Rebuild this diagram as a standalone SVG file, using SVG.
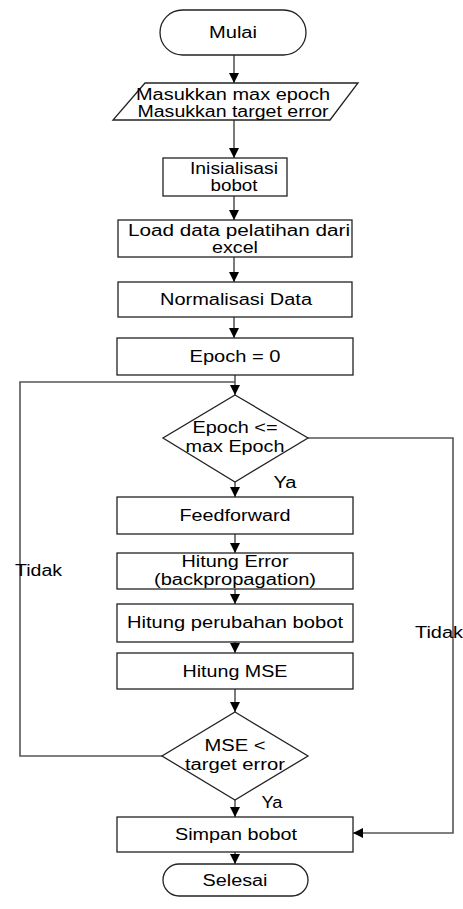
<svg xmlns="http://www.w3.org/2000/svg" width="463" height="909" viewBox="0 0 463 909">
<style>
.s{fill:#fff;stroke:#222;stroke-width:1.3}
.c{fill:none;stroke:#333;stroke-width:1.3}
.g{fill:none;stroke:#555;stroke-width:1.6}
text{font-family:"Liberation Sans",Arial,sans-serif;font-size:16px;fill:#000;text-anchor:middle}
.l{text-anchor:start}
</style>
<defs>
<marker id="ah" markerUnits="userSpaceOnUse" markerWidth="12" markerHeight="12" refX="10" refY="5" orient="auto">
<path d="M0,0 L10,5 L0,10 Z" fill="#000"/>
</marker>
</defs>
<g id="connectors">
<line class="c" x1="234" y1="55" x2="234" y2="83" marker-end="url(#ah)"/>
<line class="c" x1="234" y1="120" x2="234" y2="158" marker-end="url(#ah)"/>
<line class="c" x1="234" y1="196" x2="234" y2="220" marker-end="url(#ah)"/>
<line class="c" x1="234" y1="257" x2="234" y2="282" marker-end="url(#ah)"/>
<line class="c" x1="234" y1="317" x2="234" y2="338" marker-end="url(#ah)"/>
<line class="c" x1="235" y1="375" x2="235" y2="395" marker-end="url(#ah)"/>
<line class="c" x1="235" y1="482" x2="235" y2="497" marker-end="url(#ah)"/>
<line class="c" x1="235" y1="534" x2="235" y2="553" marker-end="url(#ah)"/>
<line class="c" x1="235" y1="589" x2="235" y2="604" marker-end="url(#ah)"/>
<line class="c" x1="235" y1="642" x2="235" y2="653" marker-end="url(#ah)"/>
<line class="c" x1="235" y1="689" x2="235" y2="712" marker-end="url(#ah)"/>
<line class="c" x1="235" y1="800" x2="235" y2="817" marker-end="url(#ah)"/>
<line class="c" x1="235" y1="852" x2="235" y2="864" marker-end="url(#ah)"/>
<polyline class="g" points="162,756 20,756 20,382 235,382"/>
<polyline class="g" points="308,438 453,438 453,833 353,833" marker-end="url(#ah)"/>
</g>
<g id="mulai"><rect class="s" x="160" y="10" width="146" height="45" rx="22.5"/><text x="233" y="38" textLength="48" lengthAdjust="spacingAndGlyphs">Mulai</text></g>
<g id="input"><polygon class="s" points="145,83 358,83 330,120 113,120"/>
<text x="233" y="100" textLength="194" lengthAdjust="spacingAndGlyphs">Masukkan max epoch</text>
<text x="233" y="117" textLength="191" lengthAdjust="spacingAndGlyphs">Masukkan target error</text></g>
<g id="inisialisasi"><rect class="s" x="163" y="158" width="124" height="38"/>
<text x="234" y="174" textLength="88" lengthAdjust="spacingAndGlyphs">Inisialisasi</text>
<text x="234" y="191" textLength="47" lengthAdjust="spacingAndGlyphs">bobot</text></g>
<g id="load"><rect class="s" x="118" y="220" width="234" height="37"/>
<text x="239" y="236" textLength="222" lengthAdjust="spacingAndGlyphs">Load data pelatihan dari</text>
<text x="235" y="253" textLength="46" lengthAdjust="spacingAndGlyphs">excel</text></g>
<g id="normalisasi"><rect class="s" x="118" y="282" width="234" height="35"/>
<text x="236" y="305" textLength="152" lengthAdjust="spacingAndGlyphs">Normalisasi Data</text></g>
<g id="epoch0"><rect class="s" x="117" y="338" width="236" height="37"/>
<text x="235" y="362" textLength="91" lengthAdjust="spacingAndGlyphs">Epoch = 0</text></g>
<g id="cek-epoch"><polygon class="s" points="235,395 308,438 235,482 163,438"/>
<text x="235" y="433" textLength="85" lengthAdjust="spacingAndGlyphs">Epoch &lt;=</text>
<text x="235" y="452" textLength="99" lengthAdjust="spacingAndGlyphs">max Epoch</text></g>
<g id="feedforward"><rect class="s" x="117" y="497" width="236" height="37"/>
<text x="235" y="521" textLength="111" lengthAdjust="spacingAndGlyphs">Feedforward</text></g>
<g id="hitung-error"><rect class="s" x="117" y="553" width="236" height="36"/>
<text x="235" y="567" textLength="107" lengthAdjust="spacingAndGlyphs">Hitung Error</text>
<text x="235" y="585" textLength="162" lengthAdjust="spacingAndGlyphs">(backpropagation)</text></g>
<g id="hitung-perubahan"><rect class="s" x="117" y="604" width="236" height="38"/>
<text x="235" y="628" textLength="216" lengthAdjust="spacingAndGlyphs">Hitung perubahan bobot</text></g>
<g id="hitung-mse"><rect class="s" x="117" y="653" width="236" height="36"/>
<text x="235" y="677" textLength="105" lengthAdjust="spacingAndGlyphs">Hitung MSE</text></g>
<g id="cek-mse"><polygon class="s" points="235,712 308,756 235,800 162,756"/>
<text x="235" y="751" textLength="61" lengthAdjust="spacingAndGlyphs">MSE &lt;</text>
<text x="235" y="770" textLength="100" lengthAdjust="spacingAndGlyphs">target error</text></g>
<g id="simpan"><rect class="s" x="117" y="817" width="236" height="35"/>
<text x="236" y="840" textLength="122" lengthAdjust="spacingAndGlyphs">Simpan bobot</text></g>
<g id="selesai"><rect class="s" x="163" y="864" width="145" height="32" rx="16"/>
<text x="235" y="886" textLength="65" lengthAdjust="spacingAndGlyphs">Selesai</text></g>
<g id="labels">
<text x="285" y="488" textLength="23" lengthAdjust="spacingAndGlyphs">Ya</text>
<text x="272" y="808" textLength="21" lengthAdjust="spacingAndGlyphs">Ya</text>
<text class="l" x="15" y="576" textLength="47" lengthAdjust="spacingAndGlyphs">Tidak</text>
<text class="l" x="415" y="638" textLength="48" lengthAdjust="spacingAndGlyphs">Tidak</text>
</g>
</svg>
